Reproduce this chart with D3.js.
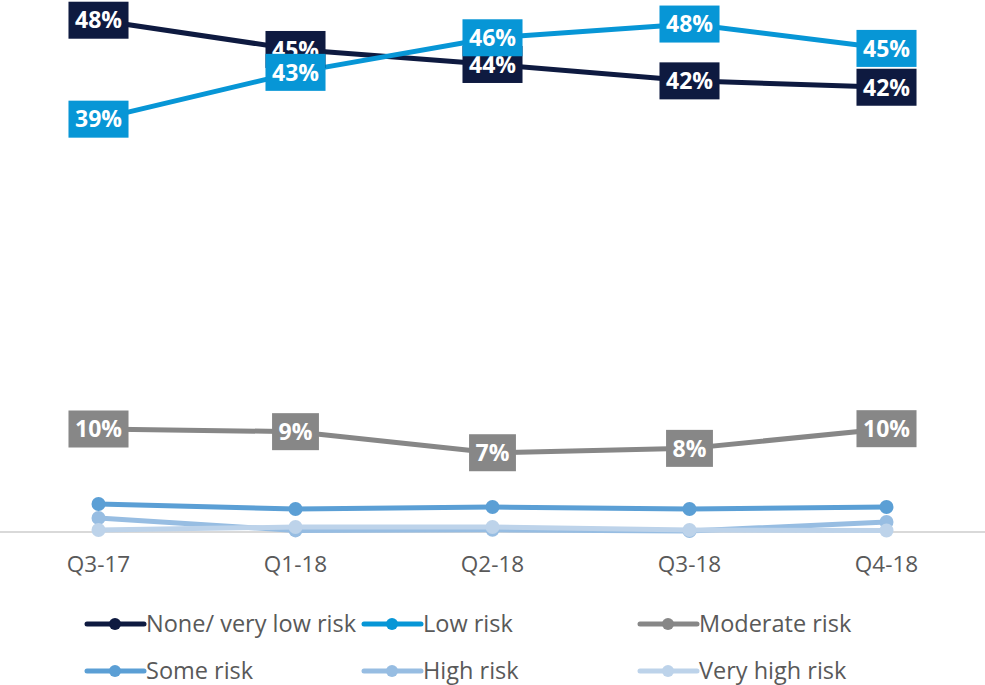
<!DOCTYPE html>
<html>
<head>
<meta charset="utf-8">
<script src="https://cdn.jsdelivr.net/npm/d3@7"></script>
<style>
  html, body { margin: 0; padding: 0; background: #ffffff; }
  svg { display: block; }
</style>
</head>
<body>
<svg id="chart" width="985" height="685"></svg>
<script>
// ---- Data ----
const categories = ["Q3-17", "Q1-18", "Q2-18", "Q3-18", "Q4-18"];
const seriesNames = ["None/ very low risk", "Low risk", "Moderate risk", "Some risk", "High risk", "Very high risk"];
const noneVeryLow = [0.481, 0.4535, 0.4394, 0.424, 0.418];
const lowRisk     = [0.388, 0.432, 0.4645, 0.4774, 0.4545];
const moderate    = [0.0968, 0.0943, 0.0745, 0.0786, 0.0971];
const someRisk    = [0.0263, 0.0216, 0.0235, 0.0216, 0.0235];
const highRisk    = [0.0132, 0.0015, 0.002, 0.001, 0.0094];
const veryHigh    = [0.0019, 0.0047, 0.0047, 0.0019, 0.0014];
const yDomain = [0, 0.5];

const colors = ["#0e1a40", "#0796d6", "#878787", "#5b9fd5", "#97bde2", "#bdd3ea"];
const labelled = [true, true, true, false, false, false];
const seriesValues = [noneVeryLow, lowRisk, moderate, someRisk, highRisk, veryHigh];

const series = seriesNames.map((name, i) => ({
  name, color: colors[i], labelled: labelled[i],
  values: seriesValues[i].map((v, j) => ({ cat: categories[j], v }))
}));

// ---- Layout ----
const svg = d3.select("#chart");
const W = 985;
const plot = { left: 0, right: 985, top: 0, bottom: 532 };

const x = d3.scaleBand().domain(categories).range([plot.left, plot.right]).padding(0);
const cx = c => x(c) + x.bandwidth() / 2;
const y = d3.scaleLinear().domain(yDomain).range([plot.bottom, plot.top]);

// axis line
const xAxis = d3.axisBottom(x).tickSize(0).tickPadding(24);
const gx = svg.append("g").attr("transform", `translate(0,${plot.bottom})`).call(xAxis);
gx.select(".domain").attr("stroke", "#d9d9d9").attr("stroke-width", 2).attr("d", `M0,0H${W}`);
gx.selectAll("text")
  .attr("font-family", "'Open Sans', sans-serif")
  .attr("font-size", 22.5)
  .attr("fill", "#595959");

const line = d3.line().x(d => cx(d.cat)).y(d => y(d.v));

// draw lines (bottom series first; top series after)
const drawOrder = [3, 4, 5, 2, 0, 1];
drawOrder.forEach(i => {
  const s = series[i];
  const g = svg.append("g");
  g.append("path")
    .attr("d", line(s.values))
    .attr("fill", "none")
    .attr("stroke", s.color)
    .attr("stroke-width", 5)
    .attr("stroke-linejoin", "round");
  g.selectAll("circle").data(s.values).join("circle")
    .attr("cx", d => cx(d.cat))
    .attr("cy", d => y(d.v))
    .attr("r", 7)
    .attr("fill", s.color);
});

// data labels
const fmt = d3.format(".0%");
[2, 0, 1].forEach(i => {
  const s = series[i];
  const g = svg.append("g");
  s.values.forEach(d => {
    const lg = g.append("g").attr("transform", `translate(${cx(d.cat)},${y(d.v)})`);
    const rect = lg.append("rect").attr("fill", s.color);
    const t = lg.append("text")
      .attr("text-anchor", "middle")
      .attr("dy", "0.36em")
      .attr("font-family", "'Open Sans', sans-serif")
      .attr("font-weight", 700)
      .attr("font-size", 23)
      .attr("fill", "#ffffff")
      .text(fmt(d.v));
    const tw = t.node().getComputedTextLength();
    const bw = tw + 13, bh = 37;
    rect.attr("x", -bw / 2).attr("y", -bh / 2).attr("width", bw).attr("height", bh);
  });
});

// legend
const legendCols = [87, 364, 640];
const legendRows = [624, 671];
const legend = svg.append("g");
series.forEach((s, i) => {
  const lx = legendCols[i % 3], ly = legendRows[Math.floor(i / 3)];
  const g = legend.append("g").attr("transform", `translate(${lx},${ly})`);
  g.append("line").attr("x1", 0).attr("x2", 57).attr("y1", 0).attr("y2", 0)
    .attr("stroke", s.color).attr("stroke-width", 5).attr("stroke-linecap", "round");
  g.append("circle").attr("cx", 28).attr("cy", 0).attr("r", 6).attr("fill", s.color);
  g.append("text").attr("x", 59).attr("y", 0).attr("dy", "0.34em")
    .attr("font-family", "'Open Sans', sans-serif")
    .attr("font-size", 23.5)
    .attr("fill", "#595959")
    .text(s.name);
});
</script>
</body>
</html>
